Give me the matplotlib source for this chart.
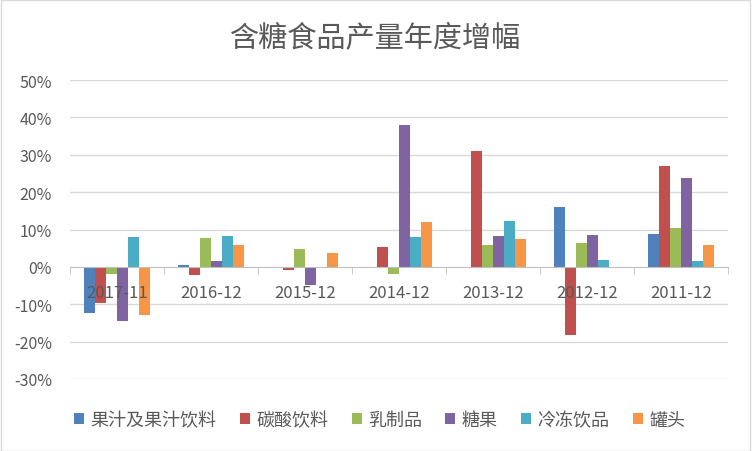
import numpy as np
import matplotlib.pyplot as plt
from matplotlib.ticker import FuncFormatter, FixedLocator
from matplotlib.patches import Rectangle

plt.rcParams['font.family'] = ['Noto Sans CJK SC', 'DejaVu Sans']

categories = ['2017-11', '2016-12', '2015-12', '2014-12', '2013-12', '2012-12', '2011-12']
series_names = ['果汁及果汁饮料', '碳酸饮料', '乳制品', '糖果', '冷冻饮品', '罐头']

juice = [-12.4, 0.6, 0.0, 0.0, 0.0, 16.1, 8.8]
soda = [-9.6, -2.3, -0.9, 5.3, 31.0, -18.2, 26.9]
dairy = [-2.0, 7.6, 4.9, -1.8, 5.8, 6.5, 10.4]
candy = [-14.4, 1.7, -4.8, 38.0, 8.2, 8.6, 23.7]
frozen = [7.9, 8.2, -0.4, 8.0, 12.2, 1.9, 1.6]
canned = [-12.8, 5.8, 3.7, 12.0, 7.4, 0.0, 5.9]

colors = ['#4F81BD', '#C0504D', '#9BBB59', '#8064A2', '#4BACC6', '#F79646']
text_color = '#595959'

fig = plt.figure(figsize=(7.52, 4.52), dpi=100)
ax = fig.add_axes([70 / 752, 1 - 380 / 452, 658 / 752, 299 / 452])

data = [juice, soda, dairy, candy, frozen, canned]
x = np.arange(len(categories)) + 0.5
w = 0.117
for k, (vals, name, c) in enumerate(zip(data, series_names, colors)):
    ax.bar(x + (k - 2.5) * w, np.array(vals) / 100, width=w, color=c, label=name, zorder=1)

# gridlines drawn by hand so tick labels stay above the bars
yticks = np.arange(-0.3, 0.51, 0.1)
for y in yticks:
    if abs(y) > 1e-9:
        ax.axhline(y, color='#D9D9D9', lw=1, zorder=0)

ax.set_ylim(-0.3, 0.5)
ax.set_xlim(0, len(categories))
ax.set_yticks(yticks)
ax.yaxis.set_major_formatter(FuncFormatter(lambda v, p: f"{int(round(v * 100))}%"))
ax.tick_params(axis='y', length=0, pad=13, labelsize=11.5, labelcolor=text_color)

for s in ['top', 'right', 'left']:
    ax.spines[s].set_visible(False)
ax.spines['bottom'].set_position(('data', 0))
ax.spines['bottom'].set_color('#BFBFBF')
ax.set_xticks(x)
ax.set_xticklabels(categories)
ax.xaxis.set_minor_locator(FixedLocator(np.arange(0, len(categories) + 1)))
ax.tick_params(axis='x', which='major', length=0, pad=12, labelsize=12, labelcolor=text_color)
ax.tick_params(axis='x', which='minor', length=5, color='#BFBFBF')

fig.text(0.5, 1 - 38 / 452, '含糖食品产量年度增幅', ha='center', va='center',
         fontsize=21, color=text_color)

leg = fig.legend(loc='center', bbox_to_anchor=(0.505, 1 - 421 / 452), ncol=6, frameon=False,
                 fontsize=13, handlelength=0.55, handleheight=0.55, handletextpad=0.35,
                 columnspacing=1.3)
for t in leg.get_texts():
    t.set_color(text_color)

fig.patches.append(Rectangle((0.001, 0.001), 0.997, 0.997, transform=fig.transFigure,
                             fill=False, edgecolor='#D9D9D9', lw=1))

fig.savefig('out.png', dpi=100)
